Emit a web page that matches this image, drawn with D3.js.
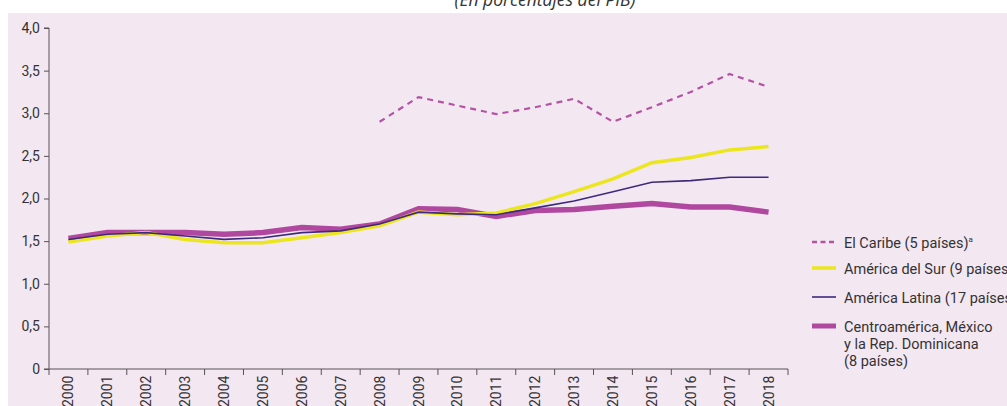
<!DOCTYPE html>
<html>
<head>
<meta charset="utf-8">
<script src="https://cdn.jsdelivr.net/npm/d3@7"></script>
<style>
  body { margin: 0; background: #fff; }
  svg { display: block; }
  .ax text { font-family: "Liberation Sans Narrow", "Roboto", sans-serif; font-size: 14px; fill: #333; }
  .leg text { font-family: "Liberation Sans Narrow", "Roboto", sans-serif; font-size: 14.5px; fill: #333; }
</style>
</head>
<body>
<svg id="chart" width="1007" height="406"></svg>
<script>
// years on the x axis
var years = [2000, 2001, 2002, 2003, 2004, 2005, 2006, 2007, 2008, 2009,
             2010, 2011, 2012, 2013, 2014, 2015, 2016, 2017, 2018];

// series, in % of GDP (null = no data)
var caribe = [null, null, null, null, null, null, null, null, 2.90, 3.19,
              3.09, 2.99, 3.07, 3.17, 2.90, 3.07, 3.25, 3.46, 3.31];
var sur = [1.49, 1.56, 1.60, 1.52, 1.48, 1.48, 1.54, 1.60, 1.68, 1.84,
           1.81, 1.83, 1.94, 2.08, 2.23, 2.42, 2.48, 2.57, 2.61];
var latina = [1.52, 1.58, 1.60, 1.56, 1.52, 1.54, 1.60, 1.62, 1.70, 1.84,
              1.82, 1.81, 1.89, 1.97, 2.08, 2.19, 2.21, 2.25, 2.25];
var centro = [1.53, 1.60, 1.60, 1.60, 1.58, 1.60, 1.66, 1.64, 1.70, 1.88,
              1.87, 1.79, 1.86, 1.87, 1.91, 1.94, 1.90, 1.90, 1.84];

var yTicks = [0, 0.5, 1.0, 1.5, 2.0, 2.5, 3.0, 3.5, 4.0];
var legendLabels = [
  ["El Caribe (5 países)", "a"],
  ["América del Sur (9 países)"],
  ["América Latina (17 países)"],
  ["Centroamérica, México", "y la Rep. Dominicana", "(8 países)"]
];

var svg = d3.select("#chart");
var bg = "#f3e7f2";

// title (cut off at the top)
svg.append("text")
  .attr("x", 545).attr("y", 6)
  .attr("text-anchor", "middle")
  .style("font-family", "'Open Sans', sans-serif")
  .style("font-style", "italic")
  .style("font-size", "17.5px")
  .style("fill", "#333")
  .text("(En porcentajes del PIB)");

// panel
svg.append("rect")
  .attr("x", 8).attr("y", 13)
  .attr("width", 1007 - 8).attr("height", 406 - 13)
  .attr("fill", bg);

var x = d3.scaleBand().domain(years).range([49, 788]);
var y = d3.scaleLinear().domain([0, 4]).range([369, 28]);

// y axis
var yAxis = d3.axisLeft(y)
  .tickValues(yTicks)
  .tickSize(5)
  .tickPadding(4)
  .tickFormat(function(d) { return d === 0 ? "0" : d3.format(".1f")(d).replace(".", ","); });

var gy = svg.append("g").attr("class", "ax")
  .attr("transform", "translate(49,0)")
  .call(yAxis);
gy.select(".domain").attr("stroke", "#555").attr("d", "M-5,28H0V369");
gy.selectAll(".tick line").attr("stroke", "#555");

// x axis: ticks at band edges, labels rotated
var gx = svg.append("g").attr("class", "ax")
  .attr("transform", "translate(0,369)");
gx.append("line")
  .attr("x1", 44).attr("x2", 788)
  .attr("stroke", "#555");
var edges = years.map(function(d) { return x(d); }).concat([x.range()[1]]);
gx.selectAll("line.tk").data(edges).enter().append("line")
  .attr("class", "tk")
  .attr("x1", function(d) { return d; }).attr("x2", function(d) { return d; })
  .attr("y1", 0).attr("y2", 6)
  .attr("stroke", "#555");
gx.selectAll("text.yr").data(years).enter().append("text")
  .attr("class", "yr")
  .attr("transform", function(d) {
    return "translate(" + (x(d) + x.bandwidth() / 2 + 5) + ",38) rotate(-90)";
  })
  .text(function(d) { return d; });

var line = d3.line()
  .defined(function(d) { return d != null; })
  .x(function(d, i) { return x(years[i]) + x.bandwidth() / 2; })
  .y(function(d) { return y(d); });

var series = [
  { data: centro, color: "#b0489f", width: 5.5, dash: null },
  { data: sur, color: "#ebe61e", width: 3.5, dash: null },
  { data: latina, color: "#3d2a7c", width: 1.6, dash: null },
  { data: caribe, color: "#b453a3", width: 2.2, dash: "6,5" }
];

series.forEach(function(s) {
  svg.append("path")
    .datum(s.data)
    .attr("fill", "none")
    .attr("stroke", s.color)
    .attr("stroke-width", s.width)
    .attr("stroke-dasharray", s.dash)
    .attr("d", line);
});

// legend
var leg = svg.append("g").attr("class", "leg");
var legItems = [
  { s: series[3], y: 243 },
  { s: series[1], y: 269 },
  { s: series[2], y: 298 },
  { s: series[0], y: 327 }
];
legItems.forEach(function(it, i) {
  leg.append("line")
    .attr("x1", 812).attr("x2", 836)
    .attr("y1", it.y - 1).attr("y2", it.y - 1)
    .attr("stroke", it.s.color)
    .attr("stroke-width", i === 3 ? 5 : (i === 0 ? 2.5 : it.s.width))
    .attr("stroke-dasharray", i === 0 ? "5,3.5" : null);
  var lab = legendLabels[i];
  if (i === 0) {
    var t = leg.append("text").attr("x", 844).attr("y", it.y + 5);
    t.append("tspan").text(lab[0]);
    t.append("tspan").attr("dy", -6).style("font-size", "8px").text(lab[1]);
  } else {
    lab.forEach(function(l, j) {
      leg.append("text")
        .attr("x", 844).attr("y", it.y + 5 + j * 17)
        .text(l);
    });
  }
});
</script>
</body>
</html>
